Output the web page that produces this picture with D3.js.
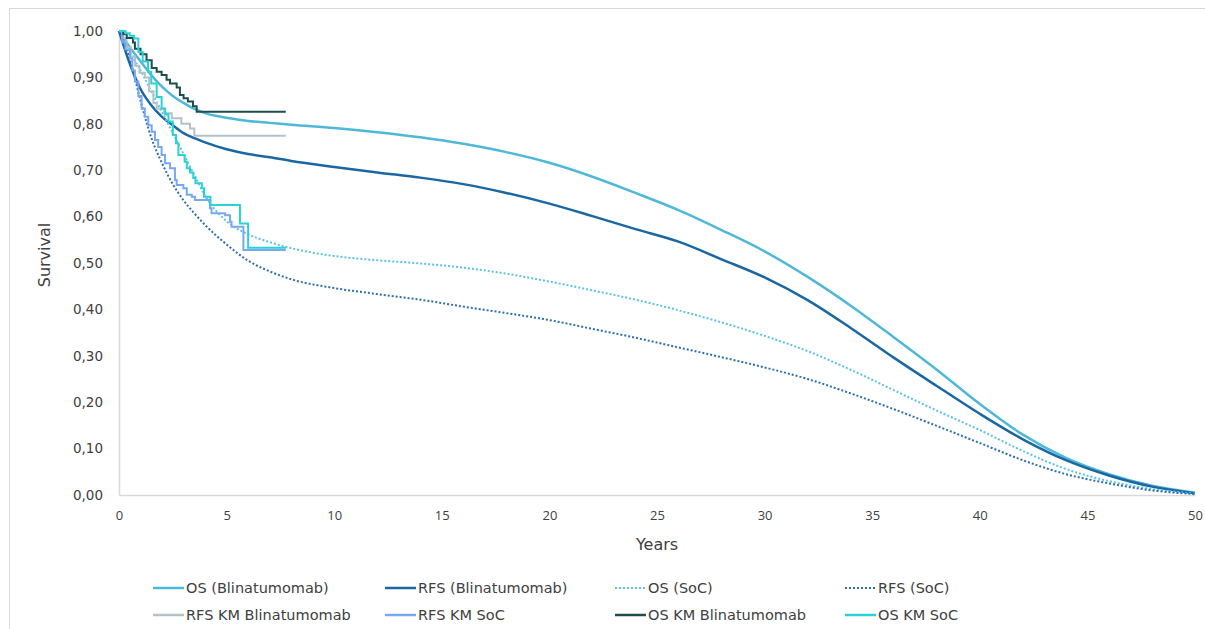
<!DOCTYPE html>
<html>
<head>
<meta charset="utf-8">
<script src="https://cdn.jsdelivr.net/npm/d3@7"></script>
<style>
  body { margin: 0; background: #fff; }
  svg { display: block; }
</style>
</head>
<body>
<div id="chart"></div>
<script>
// model curves (years, survival)
const modelYears = [0, 0.5, 1, 1.5, 2, 2.5, 3, 3.5, 4, 5, 6, 7, 8, 10, 12, 14, 16, 18, 20, 22, 24, 26, 28, 30, 32, 34, 36, 38, 40, 42, 44, 46, 48, 50];
const osBlin  = [1.0, 0.965, 0.935, 0.905, 0.88, 0.86, 0.845, 0.832, 0.823, 0.813, 0.806, 0.802, 0.798, 0.791, 0.782, 0.771, 0.757, 0.739, 0.716, 0.686, 0.651, 0.614, 0.571, 0.525, 0.47, 0.408, 0.34, 0.27, 0.196, 0.13, 0.08, 0.045, 0.02, 0.005];
const rfsBlin = [1.0, 0.93, 0.875, 0.84, 0.815, 0.797, 0.78, 0.769, 0.76, 0.745, 0.735, 0.728, 0.72, 0.707, 0.695, 0.684, 0.67, 0.651, 0.628, 0.601, 0.573, 0.546, 0.508, 0.469, 0.42, 0.36, 0.296, 0.235, 0.175, 0.12, 0.075, 0.042, 0.018, 0.004];
const osSoc   = [1.0, 0.955, 0.915, 0.87, 0.825, 0.78, 0.735, 0.69, 0.645, 0.59, 0.562, 0.545, 0.532, 0.515, 0.506, 0.499, 0.49, 0.477, 0.46, 0.441, 0.421, 0.398, 0.372, 0.343, 0.31, 0.27, 0.226, 0.182, 0.14, 0.095, 0.056, 0.03, 0.013, 0.003];
const rfsSoc  = [1.0, 0.94, 0.85, 0.77, 0.715, 0.67, 0.635, 0.607, 0.582, 0.54, 0.505, 0.482, 0.465, 0.446, 0.433, 0.421, 0.406, 0.392, 0.377, 0.358, 0.339, 0.318, 0.297, 0.275, 0.25, 0.219, 0.185, 0.149, 0.112, 0.075, 0.045, 0.025, 0.01, 0.002];

// Kaplan-Meier steps
const kmOsBlinT = [0, 0.2, 0.36, 0.65, 0.74, 1.0, 1.28, 1.52, 1.75, 1.98, 2.21, 2.37, 2.68, 2.83, 3.0, 3.2, 3.44, 3.61, 7.75];
const kmOsBlinS = [1.0, 0.993, 0.985, 0.975, 0.962, 0.95, 0.937, 0.92, 0.912, 0.905, 0.895, 0.887, 0.878, 0.862, 0.855, 0.848, 0.838, 0.826, 0.826];
const kmRfsBlinT = [0, 0.15, 0.35, 0.55, 0.75, 0.95, 1.2, 1.4, 1.6, 1.75, 2.1, 2.45, 2.9, 3.3, 3.5, 7.75];
const kmRfsBlinS = [1.0, 0.985, 0.965, 0.945, 0.925, 0.91, 0.9, 0.87, 0.845, 0.833, 0.823, 0.812, 0.8, 0.79, 0.774, 0.774];
const kmOsSocT = [0, 0.3, 0.5, 0.7, 0.9, 1.1, 1.35, 1.5, 1.75, 1.98, 2.15, 2.3, 2.5, 2.65, 2.76, 3.05, 3.15, 3.3, 3.45, 3.55, 3.85, 3.95, 4.25, 5.62, 6.0, 7.75];
const kmOsSocS = [1.0, 0.995, 0.99, 0.984, 0.955, 0.934, 0.912, 0.887, 0.858, 0.833, 0.82, 0.805, 0.776, 0.758, 0.733, 0.718, 0.704, 0.695, 0.683, 0.672, 0.661, 0.643, 0.625, 0.585, 0.533, 0.533];
const kmRfsSocT = [0, 0.15, 0.3, 0.51, 0.62, 0.74, 0.9, 1.05, 1.2, 1.36, 1.52, 1.67, 1.82, 1.98, 2.14, 2.37, 2.6, 2.68, 2.99, 3.15, 3.38, 3.53, 4.23, 4.3, 4.93, 5.16, 5.23, 5.78, 7.75];
const kmRfsSocS = [1.0, 0.975, 0.96, 0.941, 0.915, 0.891, 0.86, 0.833, 0.815, 0.797, 0.783, 0.765, 0.75, 0.733, 0.715, 0.704, 0.679, 0.668, 0.661, 0.647, 0.643, 0.636, 0.618, 0.607, 0.603, 0.589, 0.578, 0.528, 0.528];

const xTicks = [0, 5, 10, 15, 20, 25, 30, 35, 40, 45, 50];
const yTicks = [0, 0.1, 0.2, 0.3, 0.4, 0.5, 0.6, 0.7, 0.8, 0.9, 1.0];

const width = 1205, height = 629;
const margin = {top: 31, right: 10, bottom: 134, left: 119};
const w = width - margin.left - margin.right;
const h = height - margin.top - margin.bottom;

const svg = d3.select('#chart').append('svg')
  .attr('width', width)
  .attr('height', height);

// chart frame
svg.append('rect')
  .attr('x', 9.5).attr('y', 8.5)
  .attr('width', 1200).attr('height', 630)
  .attr('fill', 'none')
  .attr('stroke', '#d9d9d9');

const g = svg.append('g').attr('transform', `translate(${margin.left},${margin.top})`);

const x = d3.scaleLinear().domain([0, 50]).range([0, w]);
const y = d3.scaleLinear().domain([0, 1]).range([h, 0]);

// axes
const xAxis = g.append('g')
  .attr('transform', `translate(0,${h})`)
  .call(d3.axisBottom(x).tickValues(xTicks).tickSize(0).tickPadding(16));
xAxis.select('.domain').attr('stroke', '#d9d9d9').attr('stroke-width', 1.5);
xAxis.selectAll('text')
  .attr('fill', '#404040')
  .style('font-family', 'Open Sans, sans-serif')
  .style('font-size', '13px');

const fmt = d => d.toFixed(2).replace('.', ',');
const yAxis = g.append('g')
  .call(d3.axisLeft(y).tickValues(yTicks).tickFormat(fmt).tickSize(0).tickPadding(16));
yAxis.select('.domain').attr('stroke', '#d9d9d9').attr('stroke-width', 1.5);
yAxis.selectAll('text')
  .attr('fill', '#404040')
  .style('font-family', 'DejaVu Sans, sans-serif')
  .style('font-size', '13.5px');

// axis titles
svg.append('text')
  .attr('transform', 'translate(50,255) rotate(-90)')
  .attr('text-anchor', 'middle')
  .attr('fill', '#404040')
  .style('font-family', 'DejaVu Sans, sans-serif')
  .style('font-size', '16px')
  .text('Survival');

svg.append('text')
  .attr('x', 657).attr('y', 550)
  .attr('text-anchor', 'middle')
  .attr('fill', '#404040')
  .style('font-family', 'DejaVu Sans, sans-serif')
  .style('font-size', '16px')
  .text('Years');

const zip = (ts, ss) => ts.map((t, i) => [t, ss[i]]);

const series = [
  {name: 'OS (Blinatumomab)', data: zip(modelYears, osBlin), color: '#4fb8d8', dash: null, width: 2.5, step: false},
  {name: 'RFS (Blinatumomab)', data: zip(modelYears, rfsBlin), color: '#1a67a3', dash: null, width: 2.5, step: false},
  {name: 'OS (SoC)', data: zip(modelYears, osSoc), color: '#5bc3e5', dash: '2,2', width: 2, step: false},
  {name: 'RFS (SoC)', data: zip(modelYears, rfsSoc), color: '#2a6fae', dash: '2,2', width: 2, step: false},
  {name: 'RFS KM Blinatumomab', data: zip(kmRfsBlinT, kmRfsBlinS), color: '#b3c2c6', dash: null, width: 2, step: true},
  {name: 'RFS KM SoC', data: zip(kmRfsSocT, kmRfsSocS), color: '#78a8f4', dash: null, width: 2, step: true},
  {name: 'OS KM Blinatumomab', data: zip(kmOsBlinT, kmOsBlinS), color: '#1d4d4e', dash: null, width: 2, step: true},
  {name: 'OS KM SoC', data: zip(kmOsSocT, kmOsSocS), color: '#2ad2d4', dash: null, width: 2, step: true}
];

const smooth = d3.line().x(d => x(d[0])).y(d => y(d[1])).curve(d3.curveMonotoneX);
const stepped = d3.line().x(d => x(d[0])).y(d => y(d[1])).curve(d3.curveStepAfter);

series.forEach(s => {
  g.append('path')
    .datum(s.data)
    .attr('d', s.step ? stepped : smooth)
    .attr('fill', 'none')
    .attr('stroke', s.color)
    .attr('stroke-width', s.width)
    .attr('stroke-dasharray', s.dash);
});

// legend
const colX = [153, 385, 615, 845];
const rowY = [588, 615];
const legend = svg.append('g');
series.forEach((s, i) => {
  const lx = colX[i % 4], ly = rowY[Math.floor(i / 4)];
  legend.append('line')
    .attr('x1', lx).attr('x2', lx + 31)
    .attr('y1', ly).attr('y2', ly)
    .attr('stroke', s.color)
    .attr('stroke-width', s.dash ? 2 : 2.5)
    .attr('stroke-dasharray', s.dash);
  legend.append('text')
    .attr('x', lx + 33).attr('y', ly)
    .attr('dy', '0.35em')
    .attr('fill', '#404040')
    .style('font-family', 'DejaVu Sans, sans-serif')
    .style('font-size', '14.5px')
    .text(s.name);
});
</script>
</body>
</html>
